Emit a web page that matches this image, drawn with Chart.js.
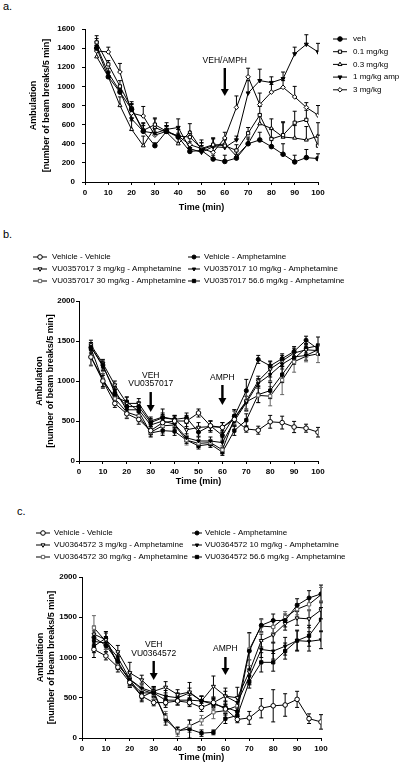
<!DOCTYPE html>
<html>
<head>
<meta charset="utf-8">
<script src="https://cdn.jsdelivr.net/npm/chart.js@4.4.0/dist/chart.umd.min.js"></script>
<style>
body { margin: 0; background: #fff; width: 412px; height: 767px; position: relative; overflow: hidden; }
canvas { position: absolute; left: 0; }
.lbl { position: absolute; font: 11px "Liberation Sans", Arial, sans-serif; color: #000; }
</style>
</head>
<body>
<div class="lbl" style="left:3px;top:0px">a.</div>
<div class="lbl" style="left:3px;top:228px">b.</div>
<div class="lbl" style="left:17px;top:505px">c.</div>
<canvas id="chartA" width="412" height="230" style="top:0px"></canvas>
<canvas id="chartB" width="412" height="260" style="top:230px"></canvas>
<canvas id="chartC" width="412" height="277" style="top:490px"></canvas>
<script>
// time bins (min)
const times = [5, 10, 15, 20, 25, 30, 35, 40, 45, 50, 55, 60, 65, 70, 75, 80, 85, 90, 95, 100];

// panel a
const aVeh = [1400, 1100, 940, 760, 530, 380, 530, 470, 320, 330, 240, 215, 250, 400, 440, 370, 290, 210, 255, 245];
const aVehErr = [60, 40, 40, 60, 60, 30, 50, 40, 40, 50, 40, 65, 40, 50, 80, 90, 110, 70, 85, 50];
const aDose01 = [1460, 1230, 1000, 770, 540, 600, 530, 480, 470, 350, 390, 380, 330, 510, 700, 450, 490, 620, 650, 380];
const aDose01Err = [70, 40, 60, 70, 80, 70, 60, 70, 60, 60, 70, 60, 60, 60, 90, 110, 140, 120, 100, 110];
const aDose03 = [1310, 1100, 800, 550, 380, 570, 520, 400, 520, 340, 380, 400, 270, 400, 610, 560, 470, 460, 440, 480];
const aDose03Err = [100, 60, 90, 90, 100, 90, 70, 80, 90, 70, 80, 50, 60, 70, 100, 100, 150, 130, 140, 140];
const aAmp1 = [1420, 1140, 950, 660, 530, 510, 550, 570, 350, 310, 370, 360, 440, 930, 1060, 1040, 1080, 1340, 1440, 1360];
const aAmp1Err = [80, 50, 60, 80, 80, 60, 70, 90, 70, 70, 80, 90, 40, 130, 120, 60, 70, 70, 100, 90];
const aDose3 = [1370, 1360, 1150, 720, 690, 490, 530, 480, 390, 350, 310, 460, 780, 1100, 810, 940, 990, 890, 780, 700];
const aDose3Err = [100, 50, 90, 90, 100, 80, 60, 70, 80, 90, 80, 60, 120, 90, 120, 80, 70, 110, 50, 100];

// panel b (VU0357017)
const bVehVeh = [1300, 1000, 720, 590, 520, 380, 480, 500, 500, 600, 440, 420, 520, 400, 385, 490, 480, 425, 410, 360];
const bVehVehErr = [110, 90, 50, 60, 60, 50, 60, 60, 70, 50, 60, 60, 60, 40, 50, 80, 80, 70, 50, 60];
const bVehAmph = [1420, 1200, 850, 680, 680, 480, 540, 520, 540, 360, 440, 320, 560, 880, 1270, 1190, 1280, 1370, 1510, 1400];
const bVehAmphErr = [60, 50, 40, 60, 60, 50, 60, 50, 60, 50, 60, 60, 80, 140, 50, 50, 60, 60, 50, 60];
const bVu3 = [1450, 1220, 950, 720, 720, 500, 550, 520, 390, 420, 430, 420, 540, 750, 1000, 1150, 1250, 1350, 1390, 1380];
const bVu3Err = [60, 50, 50, 80, 60, 50, 100, 50, 80, 60, 70, 60, 100, 120, 60, 100, 70, 60, 60, 60];
const bVu10 = [1430, 1180, 880, 640, 640, 450, 500, 460, 290, 250, 250, 230, 500, 730, 970, 1080, 1210, 1300, 1320, 1390];
const bVu10Err = [50, 50, 50, 60, 60, 40, 80, 50, 50, 50, 50, 60, 70, 80, 60, 80, 60, 70, 60, 70];
const bVu30 = [1300, 1020, 780, 610, 560, 360, 440, 450, 260, 220, 230, 140, 530, 740, 820, 810, 1010, 1240, 1310, 1340];
const bVu30Err = [100, 100, 80, 70, 70, 50, 100, 60, 60, 50, 40, 50, 90, 120, 90, 120, 180, 130, 70, 110];
const bVu56 = [1410, 1000, 800, 740, 620, 350, 380, 370, 260, 190, 210, 110, 380, 510, 830, 880, 1080, 1280, 1410, 1440];
const bVu56Err = [70, 70, 60, 60, 60, 50, 60, 50, 40, 40, 40, 40, 60, 80, 100, 100, 100, 70, 60, 110];

// panel c (VU0364572)
const cVehVeh = [1100, 1020, 880, 690, 520, 440, 440, 460, 440, 380, 440, 360, 230, 250, 370, 400, 410, 480, 240, 200];
const cVehVehErr = [100, 50, 60, 60, 50, 40, 60, 50, 50, 50, 50, 60, 40, 80, 120, 200, 140, 100, 60, 90];
const cVehAmph = [1250, 1150, 950, 700, 560, 560, 470, 470, 470, 460, 420, 380, 330, 1080, 1400, 1460, 1460, 1650, 1740, 1790];
const cVehAmphErr = [80, 80, 80, 70, 60, 60, 60, 60, 60, 60, 60, 70, 60, 230, 80, 80, 80, 80, 90, 110];
const cVu3 = [1290, 1220, 1070, 810, 720, 580, 630, 540, 570, 460, 640, 520, 500, 820, 1210, 1280, 1420, 1490, 1480, 1590];
const cVu3Err = [100, 100, 80, 130, 60, 60, 70, 60, 120, 60, 130, 100, 130, 150, 80, 90, 80, 90, 110, 110];
const cVu10 = [1200, 1180, 1000, 730, 620, 570, 520, 500, 560, 460, 440, 520, 440, 760, 1100, 1080, 1140, 1210, 1200, 1220];
const cVu10Err = [80, 80, 60, 80, 60, 60, 70, 60, 60, 60, 60, 60, 60, 100, 100, 100, 110, 120, 120, 110];
const cVu30 = [1370, 1200, 920, 730, 600, 550, 260, 80, 150, 220, 320, 340, 400, 1100, 1390, 1380, 1500, 1600, 1660, 1780];
const cVu30Err = [150, 100, 60, 90, 80, 70, 70, 60, 80, 60, 80, 60, 100, 200, 80, 70, 70, 70, 80, 90];
const cVu56 = [1140, 1240, 910, 730, 510, 580, 230, 90, 110, 60, 70, 240, 280, 700, 940, 940, 1080, 1210, 1270, 1470];
const cVu56Err = [80, 80, 60, 70, 60, 60, 70, 40, 110, 40, 30, 60, 60, 80, 120, 110, 100, 130, 130, 150];

const FONT = '"Liberation Sans", Arial, sans-serif';

// marker looks
const filledCircle = { pointStyle: 'circle', pointBackgroundColor: '#000' };
const openCircle = { pointStyle: 'circle', pointBackgroundColor: '#fff' };
const openSquare = { pointStyle: 'rect', pointBackgroundColor: '#fff' };
const filledSquare = { pointStyle: 'rect', pointBackgroundColor: '#000' };
const openTriUp = { pointStyle: 'triangle', pointBackgroundColor: '#fff' };
const openTriDown = { pointStyle: 'triangle', pointRotation: 180, pointBackgroundColor: '#fff' };
const filledTriDown = { pointStyle: 'triangle', pointRotation: 180, pointBackgroundColor: '#000' };
const openDiamond = { pointStyle: 'rectRot', pointBackgroundColor: '#fff' };

function series(label, vals, errs, look, extra) {
  return Object.assign({
    label: label,
    data: vals.map((v, i) => ({ x: times[i], y: v })),
    err: errs,
    borderColor: '#000',
    borderWidth: 1,
    pointBorderColor: '#000',
    pointBorderWidth: 1,
    pointRadius: 2.3,
    tension: 0
  }, look, extra || {});
}

// SEM bars
const errorBars = {
  id: 'errorBars',
  beforeDatasetsDraw(chart, args, opts) {
    const ctx = chart.ctx;
    const ys = chart.scales.y;
    chart.data.datasets.forEach((ds, i) => {
      const meta = chart.getDatasetMeta(i);
      ctx.save();
      ctx.strokeStyle = ds.pointBorderColor;
      ctx.lineWidth = 1;
      meta.data.forEach((pt, j) => {
        const v = ds.data[j].y, e = ds.err[j];
        const top = ys.getPixelForValue(v + e);
        const bot = opts.both ? ys.getPixelForValue(Math.max(0, v - e)) : pt.y;
        ctx.beginPath();
        ctx.moveTo(pt.x, bot);
        ctx.lineTo(pt.x, top);
        ctx.moveTo(pt.x - 2, top);
        ctx.lineTo(pt.x + 2, top);
        if (opts.both) {
          ctx.moveTo(pt.x - 2, bot);
          ctx.lineTo(pt.x + 2, bot);
        }
        ctx.stroke();
      });
      ctx.restore();
    });
  }
};

// legend drawn at fixed spots
const keyBox = {
  id: 'keyBox',
  afterDraw(chart, args, opts) {
    const ctx = chart.ctx;
    chart.data.datasets.forEach((ds, i) => {
      const k = opts.items[i];
      ctx.save();
      ctx.strokeStyle = '#000';
      ctx.lineWidth = 1;
      ctx.beginPath();
      ctx.moveTo(k.x1, k.y);
      ctx.lineTo(k.x2, k.y);
      ctx.stroke();
      ctx.fillStyle = ds.pointBackgroundColor;
      ctx.strokeStyle = ds.pointBorderColor;
      Chart.helpers.drawPoint(ctx, {
        pointStyle: ds.pointStyle, radius: ds.pointRadius,
        borderWidth: 1, rotation: ds.pointRotation || 0
      }, (k.x1 + k.x2) / 2, k.y);
      ctx.fillStyle = '#000';
      ctx.font = '8px ' + FONT;
      ctx.textBaseline = 'middle';
      ctx.fillText(ds.label, k.tx, k.y);
      ctx.restore();
    });
  }
};

// dosing arrows
const arrows = {
  id: 'arrows',
  afterDraw(chart, args, opts) {
    const ctx = chart.ctx;
    const xs = chart.scales.x, ys = chart.scales.y;
    opts.marks.forEach(m => {
      const x = xs.getPixelForValue(m.at);
      ctx.save();
      ctx.fillStyle = '#000';
      ctx.font = '8.5px ' + FONT;
      ctx.textAlign = 'center';
      ctx.textBaseline = 'middle';
      m.text.forEach((t, i) => ctx.fillText(t, x, ys.getPixelForValue(m.textY[i])));
      const y1 = ys.getPixelForValue(m.from), y2 = ys.getPixelForValue(m.to);
      ctx.fillRect(x - 1.2, y1, 2.4, y2 - y1 - 6);
      ctx.beginPath();
      ctx.moveTo(x - 4, y2 - 7);
      ctx.lineTo(x + 4, y2 - 7);
      ctx.lineTo(x, y2);
      ctx.closePath();
      ctx.fill();
      ctx.restore();
    });
  }
};

function makeChart(id, datasets, cfg) {
  const tickFont = { family: FONT, size: 8, weight: 'bold' };
  return new Chart(document.getElementById(id), {
    type: 'line',
    data: { datasets: datasets },
    plugins: [errorBars, keyBox, arrows],
    options: {
      responsive: false,
      animation: false,
      events: [],
      layout: { padding: cfg.pad },
      plugins: {
        legend: { display: false },
        tooltip: { enabled: false },
        errorBars: { both: cfg.both },
        keyBox: { items: cfg.key },
        arrows: { marks: cfg.marks }
      },
      scales: {
        x: {
          type: 'linear', min: 0, max: 100,
          afterFit: s => { s.height = cfg.xH; },
          ticks: { stepSize: 10, autoSkip: false, font: tickFont, color: '#000', padding: 3, maxRotation: 0,
                   callback: v => String(v) },
          grid: { drawOnChartArea: false, tickLength: 3, color: '#000' },
          border: { color: '#000', width: 1 },
          title: { display: true, text: 'Time (min)', color: '#000', padding: 0,
                   font: { family: FONT, size: 9, weight: 'bold', lineHeight: 1.2 } }
        },
        y: {
          min: 0, max: cfg.yMax,
          afterFit: s => { s.width = cfg.yW; },
          ticks: { stepSize: cfg.yStep, font: tickFont, color: '#000', padding: cfg.yPad,
                   callback: v => String(v) },
          grid: { drawOnChartArea: false, tickLength: 3, color: '#000' },
          border: { color: '#000', width: 1 },
          title: { display: true, text: ['Ambulation', '[number of beam breaks/5 min]'], color: '#000', padding: 0,
                   font: { family: FONT, size: 9, weight: 'bold', lineHeight: cfg.titleLH } }
        }
      }
    }
  });
}

document.addEventListener('DOMContentLoaded', function () {
  makeChart('chartA', [
    series('veh', aVeh, aVehErr, filledCircle),
    series('0.1 mg/kg', aDose01, aDose01Err, openSquare),
    series('0.3 mg/kg', aDose03, aDose03Err, openTriUp),
    series('1 mg/kg amp', aAmp1, aAmp1Err, filledTriDown),
    series('3 mg/kg', aDose3, aDose3Err, openDiamond)
  ], {
    pad: { left: 26.5, right: 94, top: 29, bottom: 16.6 },
    xH: 31.4, yW: 58.5, yMax: 1600, yStep: 200, yPad: 7, titleLH: 1.45, both: false,
    key: [
      { x1: 333, x2: 347, tx: 353, y: 39 },
      { x1: 333, x2: 347, tx: 353, y: 51.7 },
      { x1: 333, x2: 347, tx: 353, y: 64.4 },
      { x1: 333, x2: 347, tx: 353, y: 77.1 },
      { x1: 333, x2: 347, tx: 353, y: 89.8 }
    ],
    marks: [{ at: 60, text: ['VEH/AMPH'], textY: [1265], from: 1192, to: 900 }]
  });

  makeChart('chartB', [
    series('Vehicle - Vehicle', bVehVeh, bVehVehErr, openCircle),
    series('Vehicle - Amphetamine', bVehAmph, bVehAmphErr, filledCircle, { pointRadius: 2 }),
    series('VU0357017 3 mg/kg - Amphetamine', bVu3, bVu3Err, openTriDown),
    series('VU0357017 10 mg/kg - Amphetamine', bVu10, bVu10Err, filledTriDown, { pointRadius: 2 }),
    series('VU0357017 30 mg/kg - Amphetamine', bVu30, bVu30Err, openSquare, { pointBorderColor: '#666' }),
    series('VU0357017 56.6 mg/kg - Amphetamine', bVu56, bVu56Err, filledSquare)
  ], {
    pad: { left: 34.5, right: 94, top: 71, bottom: 2.6 },
    xH: 26.4, yW: 44.5, yMax: 2000, yStep: 500, yPad: 1, titleLH: 1.15, both: true,
    key: [
      { x1: 33, x2: 47, tx: 52, y: 27 },
      { x1: 188, x2: 200, tx: 204, y: 27 },
      { x1: 33, x2: 47, tx: 52, y: 39 },
      { x1: 188, x2: 200, tx: 204, y: 39 },
      { x1: 33, x2: 47, tx: 52, y: 51 },
      { x1: 188, x2: 200, tx: 204, y: 51 }
    ],
    marks: [
      { at: 30, text: ['VEH', 'VU0357017'], textY: [1062, 962], from: 862, to: 612 },
      { at: 60, text: ['AMPH'], textY: [1037], from: 950, to: 700 }
    ]
  });

  makeChart('chartC', [
    series('Vehicle - Vehicle', cVehVeh, cVehVehErr, openCircle),
    series('Vehicle - Amphetamine', cVehAmph, cVehAmphErr, filledCircle, { pointRadius: 2 }),
    series('VU0364572 3 mg/kg - Amphetamine', cVu3, cVu3Err, openTriDown),
    series('VU0364572 10 mg/kg - Amphetamine', cVu10, cVu10Err, filledTriDown, { pointRadius: 2 }),
    series('VU0364572 30 mg/kg - Amphetamine', cVu30, cVu30Err, openSquare, { pointBorderColor: '#666' }),
    series('VU0364572 56.6 mg/kg - Amphetamine', cVu56, cVu56Err, filledSquare)
  ], {
    pad: { left: 35.5, right: 91, top: 87, bottom: 3.6 },
    xH: 25.4, yW: 46.5, yMax: 2000, yStep: 500, yPad: 2, titleLH: 1.2, both: true,
    key: [
      { x1: 36, x2: 50, tx: 54, y: 43 },
      { x1: 192, x2: 202, tx: 205, y: 43 },
      { x1: 36, x2: 50, tx: 54, y: 55 },
      { x1: 192, x2: 202, tx: 205, y: 55 },
      { x1: 36, x2: 50, tx: 54, y: 67 },
      { x1: 192, x2: 202, tx: 205, y: 67 }
    ],
    marks: [
      { at: 30, text: ['VEH', 'VU0364572'], textY: [1155, 1043], from: 957, to: 720 },
      { at: 60, text: ['AMPH'], textY: [1106], from: 1006, to: 783 }
    ]
  });
});
</script>
</body>
</html>
